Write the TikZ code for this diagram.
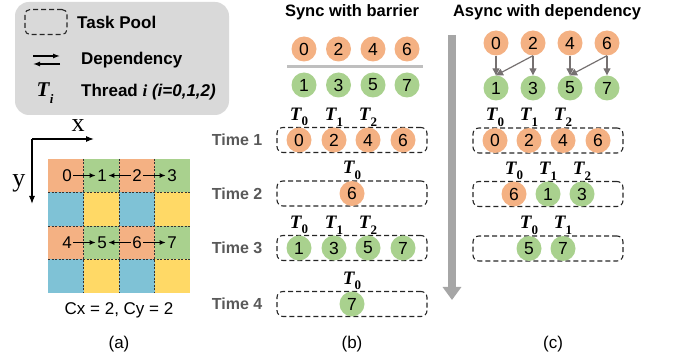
\documentclass[tikz,border=0pt]{standalone}
\usepackage{fontspec}
\setmainfont{Liberation Sans}
\newfontfamily\axisfont{Liberation Serif}
\usetikzlibrary{arrows.meta,calc,positioning}
\definecolor{taskorange}{HTML}{F4B183}
\definecolor{taskgreen}{HTML}{A9D18E}
\definecolor{cellblue}{HTML}{7FC2D6}
\definecolor{cellyellow}{HTML}{FFD966}
\definecolor{legendgray}{HTML}{D9D9D9}
\definecolor{depgray}{HTML}{767171}
\definecolor{timegray}{HTML}{595959}
\definecolor{bargray}{HTML}{A6A6A6}
\definecolor{barriergray}{HTML}{BFBFBF}
\newcommand{\thr}[1]{{\axisfont\bfseries\itshape T\kern0.3pt\raisebox{-0.3em}{\upshape\fontsize{13}{13}\selectfont #1}}}
\tikzset{
  orangetask/.style={circle, fill=taskorange, minimum size=25pt, inner sep=0pt, font=\fontsize{17.5}{17.5}\selectfont},
  greentask/.style={circle, fill=taskgreen, minimum size=25pt, inner sep=0pt, font=\fontsize{17.5}{17.5}\selectfont},
  poolbox/.style={draw=black!85, dash pattern=on 5pt off 3pt, line width=1.1pt, rounded corners=6pt, minimum width=150pt, minimum height=25pt, inner sep=0pt},
  threadlabel/.style={inner sep=0pt, font=\fontsize{19}{19}\selectfont},
  timelabel/.style={inner sep=0pt, text=timegray, font=\bfseries\fontsize{16}{16}\selectfont},
  titlelabel/.style={inner sep=0pt, font=\bfseries\fontsize{16.5}{16.5}\selectfont},
  legendtext/.style={inner sep=0pt, anchor=west, font=\bfseries\fontsize{17}{17}\selectfont},
  captiontext/.style={inner sep=0pt, font=\fontsize{17}{17}\selectfont},
  gridnum/.style={inner sep=1.5pt, font=\fontsize{17}{17}\selectfont},
  gridline/.style={black!80, dash pattern=on 2pt off 1.5pt, line width=0.7pt},
  cellarrow/.style={black, -{Latex[length=6pt,width=5pt]}, line width=0.9pt},
  legarrow/.style={black, -{Latex[length=7pt,width=5pt]}, line width=1.3pt},
  axisarrow/.style={black, -{Latex[length=8pt,width=6pt]}, line width=1.1pt},
  deparrow/.style={depgray, -{Triangle[length=7pt,width=7pt]}, line width=1.2pt},
  timearrow/.style={bargray, line width=8pt, -{Triangle[length=13pt,width=18pt]}},
  barrier/.style={barriergray, line width=3pt}
}
\begin{document}
\begin{tikzpicture}[x=1pt,y=-1pt]
  \useasboundingbox (0,0) rectangle (678,358);
  % legend
  \fill[legendgray, rounded corners=14pt] (15,2) rectangle (229,115);
  \node[poolbox, minimum width=42pt, minimum height=25pt, rounded corners=5pt] (legpool) at (46,22) {};
  \node[legendtext] (legpooltext) at (77,22) {Task Pool};
  \coordinate (depa) at (33,56);
  \coordinate (depb) at (60,56);
  \coordinate (depc) at (33,64);
  \coordinate (depd) at (60,64);
  \draw[legarrow] (depa) -- (depb);
  \draw[legarrow] (depd) -- (depc);
  \node[legendtext] (legdeptext) at (81,60) {Dependency};
  \node[threadlabel, font=\fontsize{21}{21}\selectfont] (legthread) at (45,93) {\thr{\itshape i}};
  \node[legendtext] (legthreadtext) at (81,92) {Thread {\axisfont\itshape i} \textit{(i=0,1,2)}};

  % (a) tiling
  \coordinate (origin) at (32,139);
  \coordinate (xend) at (94,139);
  \coordinate (yend) at (32,204);
  \draw[axisarrow] (origin) -- (xend);
  \draw[axisarrow] (origin) -- (yend);
  \node[inner sep=0pt, font=\axisfont\fontsize{26}{26}\selectfont] (xlabel) at (78,126) {x};
  \node[inner sep=0pt, font=\axisfont\fontsize{26}{26}\selectfont] (ylabel) at (19,183) {y};
  \foreach \r/\ca/\cb in {0/taskorange/taskgreen,1/cellblue/cellyellow,2/taskorange/taskgreen,3/cellblue/cellyellow}{
    \foreach \c in {0,...,3}{
      \pgfmathsetmacro{\gx}{48+35.5*\c}
      \pgfmathsetmacro{\gy}{159+33.5*\r}
      \ifodd\c\relax \def\cc{\cb}\else\def\cc{\ca}\fi
      \fill[\cc] (\gx,\gy) rectangle ++(35.5,33.5);
    }
  }
  \foreach \c in {1,2,3}
    \draw[gridline] ({48+35.5*\c},159) -- ({48+35.5*\c},293);
  \foreach \r in {1,2,3}
    \draw[gridline] (48,{159+33.5*\r}) -- (190,{159+33.5*\r});
  \foreach \n/\gx/\gy in {0/67/175.5,1/102/175.5,2/137/175.5,3/172/175.5,4/67/242.5,5/102/242.5,6/137/242.5,7/172/242.5}
    \node[gridnum] (g\n) at (\gx,\gy) {\n};
  \draw[cellarrow] (g0) -- (g1);
  \draw[cellarrow] (g2) -- (g1);
  \draw[cellarrow] (g2) -- (g3);
  \draw[cellarrow] (g4) -- (g5);
  \draw[cellarrow] (g6) -- (g5);
  \draw[cellarrow] (g6) -- (g7);
  \node[captiontext] (tilesize) at (119,310) {Cx = 2, Cy = 2};
  \node[captiontext] (capa) at (119,344) {(a)};

  % (b) sync with barrier
  \node[titlelabel] (synctitle) at (352,12) {Sync with barrier};
  \foreach \n/\px in {0/304,2/338.5,4/373,6/407}
    \node[orangetask] (bt\n) at (\px,49) {\n};
  \foreach \n/\px in {1/304,3/338.5,5/373,7/407}
    \node[greentask] (bb\n) at (\px,85) {\n};
  \coordinate (barl) at (287,67);
  \coordinate (barr) at (423,67);
  \draw[barrier] (barl) -- (barr);
  \foreach \k/\py in {1/140,2/193.5,3/248,4/304}{
    \node[poolbox] (sp\k) at (352,\py) {};
    \node[timelabel, left=14pt of sp\k] (stime\k) {Time \k};
  }
  \foreach \n/\px in {0/299,2/334,4/368,6/403}
    \node[orangetask] (s1t\n) at (\px,140) {\n};
  \node[orangetask] (s2t6) at (352,193.5) {6};
  \foreach \n/\px in {1/299,3/334,5/368,7/403}
    \node[greentask] (s3t\n) at (\px,248) {\n};
  \node[greentask] (s4t7) at (352,304) {7};
  \foreach \n/\t in {0/0,2/1,4/2}
    \node[threadlabel, above=1pt of s1t\n] {\thr{\t}};
  \node[threadlabel, above=1pt of s2t6] {\thr{0}};
  \foreach \n/\t in {1/0,3/1,5/2}
    \node[threadlabel, above=1pt of s3t\n] {\thr{\t}};
  \node[threadlabel, above=1pt of s4t7] {\thr{0}};
  \node[captiontext] (capb) at (352,344) {(b)};

  % (c) async with dependency
  \node[titlelabel] (asynctitle) at (547,12) {Async with dependency};
  \coordinate (timetop) at (452,35);
  \coordinate (timebot) at (452,300);
  \draw[timearrow] (timetop) -- (timebot);
  \foreach \n/\px in {0/496,2/533,4/570,6/607}
    \node[orangetask] (at\n) at (\px,43) {\n};
  \foreach \n/\px in {1/496,3/533,5/570,7/607}
    \node[greentask] (ab\n) at (\px,88) {\n};
  \draw[deparrow] (at0) -- (ab1);
  \draw[deparrow] (at2.south) -- (ab1.north);
  \draw[deparrow] (at2) -- (ab3);
  \draw[deparrow] (at4) -- (ab5);
  \draw[deparrow] (at6.south) -- (ab5.north);
  \draw[deparrow] (at6) -- (ab7);
  \foreach \k/\py in {1/140.5,2/194,3/248.5}
    \node[poolbox] (ap\k) at (548,\py) {};
  \foreach \n/\px in {0/495,2/529,4/563,6/598}
    \node[orangetask] (a1t\n) at (\px,140.5) {\n};
  \node[orangetask] (a2t6) at (514,194) {6};
  \node[greentask] (a2t1) at (548,194) {1};
  \node[greentask] (a2t3) at (582,194) {3};
  \node[greentask] (a3t5) at (529,248.5) {5};
  \node[greentask] (a3t7) at (563,248.5) {7};
  \foreach \n/\t in {0/0,2/1,4/2}
    \node[threadlabel, above=1pt of a1t\n] {\thr{\t}};
  \foreach \nd/\t in {a2t6/0,a2t1/1,a2t3/2,a3t5/0,a3t7/1}
    \node[threadlabel, above=1pt of \nd] {\thr{\t}};
  \node[captiontext] (capc) at (553,344) {(c)};
\end{tikzpicture}
\end{document}
